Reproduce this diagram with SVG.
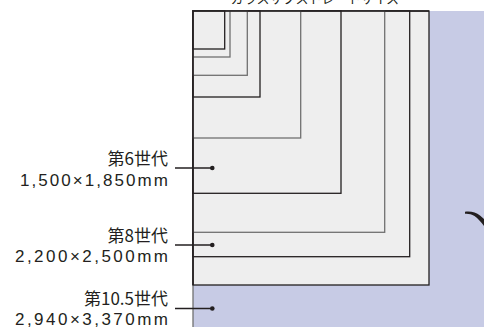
<svg xmlns="http://www.w3.org/2000/svg" width="484" height="327" viewBox="0 0 484 327">
<style>
.sub{fill:#eeeeee;stroke-width:1.3}
.dk{stroke:#231f20}
.gy{stroke:#707070}
.lbl{font-family:"Noto Sans CJK JP","Liberation Sans",sans-serif;font-size:17px;fill:#231f20;text-anchor:end}
.num{font-family:"Liberation Sans","Noto Sans CJK JP",sans-serif;font-size:17px;fill:#231f20;text-anchor:end}
.lead{stroke:#231f20;stroke-width:1.6;fill:none}
.dot{fill:#231f20}
</style>
<rect width="484" height="327" fill="#ffffff"/>
<text x="315" y="2.5" font-family="'Noto Sans CJK JP','Liberation Sans',sans-serif" font-size="13" fill="#231f20" text-anchor="middle">ガラスサブストレートサイズ</text>
<g id="gen105">
<rect x="193" y="11" width="300" height="330" fill="#c7cbe5"/>
<line x1="193" y1="285" x2="193" y2="327" stroke="#707070" stroke-width="1.3"/>
</g>
<g id="gen9"><rect class="sub dk" x="193" y="11" width="236" height="274"/></g>
<g id="gen8"><rect class="sub dk" x="193" y="11" width="216.7" height="245.7"/></g>
<g id="gen7"><rect class="sub gy" x="193" y="11" width="191.7" height="221.3"/></g>
<g id="gen6"><rect class="sub dk" x="193" y="11" width="148" height="182.3"/></g>
<g id="gen5"><rect class="sub gy" x="193" y="11" width="107.7" height="127"/></g>
<g id="gen4"><rect class="sub dk" x="193" y="11" width="67" height="86"/></g>
<g id="gen3"><rect class="sub gy" x="193" y="11" width="54.3" height="64.3"/></g>
<g id="gen2"><rect class="sub gy" x="193" y="11" width="37" height="46"/></g>
<g id="gen1"><rect class="sub dk" x="193" y="11" width="31.7" height="38"/></g>
<path d="M193 285 V11 H429" fill="none" stroke="#231f20" stroke-width="1.6"/>
<g id="arrow"><path d="M465 211.8 C471 211 476 212.5 480 215.5 L484 219 L484 226 C481 222 478 218.5 474.5 216 C471.5 214.2 468.5 213.6 465 213.8 Z" fill="#231f20"/></g>
<g id="label6">
<text class="lbl" x="168" y="165">第6世代</text>
<text class="num" x="168" y="185.5" textLength="148" lengthAdjust="spacing">1,500×1,850mm</text>
</g>
<g id="label8">
<text class="lbl" x="168" y="241.5">第8世代</text>
<text class="num" x="168" y="261.5" textLength="153" lengthAdjust="spacing">2,200×2,500mm</text>
</g>
<g id="label105">
<text class="lbl" x="168" y="305">第10.5世代</text>
<text class="num" x="168" y="325" textLength="153" lengthAdjust="spacing">2,940×3,370mm</text>
</g>
<g id="connectors">
<line class="lead" x1="175" y1="168" x2="212" y2="168"/>
<circle class="dot" cx="212.3" cy="168" r="2.3"/>
<line class="lead" x1="175" y1="245" x2="212" y2="245"/>
<circle class="dot" cx="212.3" cy="245" r="2.3"/>
<line class="lead" x1="175" y1="308.5" x2="212" y2="308.5"/>
<circle class="dot" cx="212.3" cy="308.5" r="2.3"/>
</g>
</svg>
